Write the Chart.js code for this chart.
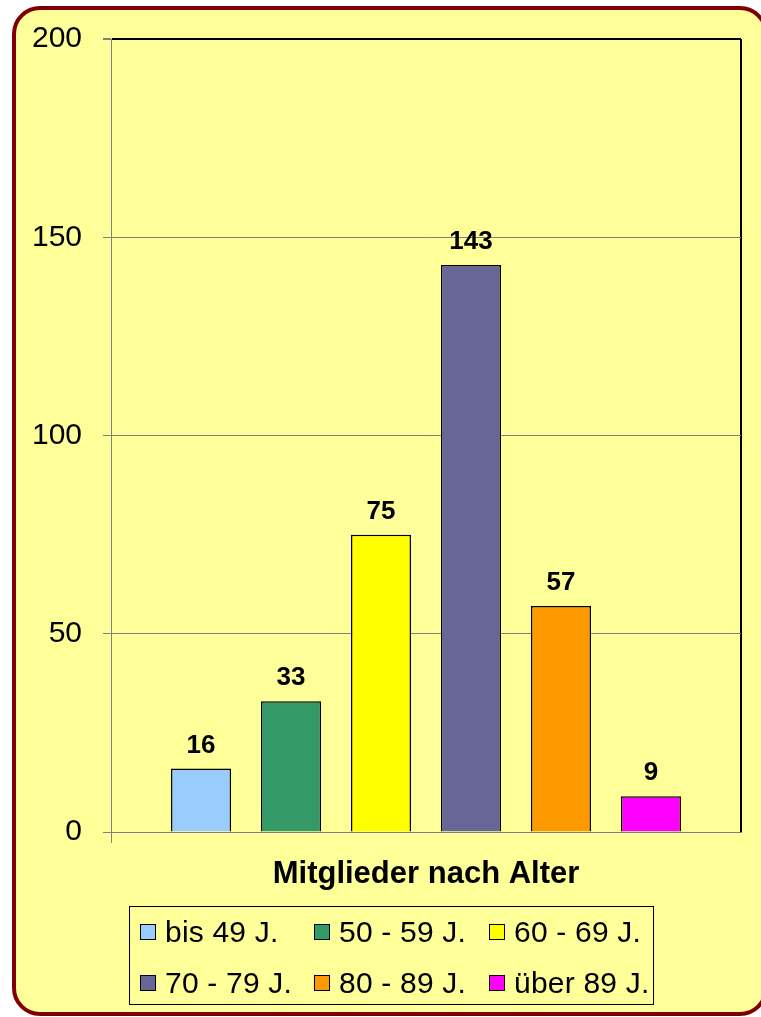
<!DOCTYPE html>
<html>
<head>
<meta charset="utf-8">
<script src="https://cdn.jsdelivr.net/npm/chart.js@4/dist/chart.umd.min.js"></script>
<style>
  html, body { margin: 0; padding: 0; background: #fff; overflow: hidden; }
  #frame {
    position: absolute; left: 12px; top: 6px; width: 756px; height: 1010px;
    box-sizing: border-box; border: 4px solid #800000; border-radius: 28px;
    background: #ffff99;
  }
  #wrap { position: absolute; left: 0; top: 0; width: 761px; height: 1017px; }
  #legend {
    position: absolute; left: 129px; top: 906px; width: 525px; height: 99px;
    box-sizing: border-box; border: 1.5px solid #000;
    font-family: "Liberation Sans", Arial, sans-serif; font-size: 30px; color: #000;
    letter-spacing: 0.2px;
  }
  .item { position: absolute; height: 34px; line-height: 34px; white-space: nowrap; }
  .box {
    position: absolute; left: 0; top: 9px; width: 16px; height: 16px;
    box-sizing: border-box; border: 1px solid #000;
  }
  .txt { position: absolute; left: 25px; top: 0; }
</style>
</head>
<body>
<div id="frame"></div>
<div id="wrap"><canvas id="c"></canvas></div>
<div id="legend"></div>
<script>
const categories = ['Mitglieder nach Alter'];
const seriesNames = ['bis 49 J.', '50 - 59 J.', '60 - 69 J.', '70 - 79 J.', '80 - 89 J.', 'über 89 J.'];
const seriesValues = [16, 33, 75, 143, 57, 9];
const seriesColors = ['#99ccff', '#339966', '#ffff00', '#666699', '#ff9900', '#ff00ff'];
const yTicks = [0, 50, 100, 150, 200];

const FONT = '"Liberation Sans", Arial, sans-serif';

// value labels above the bars
const valueLabels = {
  id: 'valueLabels',
  afterDatasetsDraw(chart) {
    const ctx = chart.ctx;
    ctx.save();
    ctx.font = 'bold 26px ' + FONT;
    ctx.fillStyle = '#000';
    ctx.textAlign = 'center';
    ctx.textBaseline = 'alphabetic';
    chart.data.datasets.forEach((ds, i) => {
      const el = chart.getDatasetMeta(i).data[0];
      ctx.fillText(String(ds.data[0]), el.x, el.y - 16);
    });
    ctx.restore();
  }
};

new Chart(document.getElementById('c'), {
  type: 'bar',
  data: {
    labels: categories,
    datasets: seriesNames.map((name, i) => ({
      label: name,
      data: [seriesValues[i]],
      backgroundColor: seriesColors[i],
      borderColor: '#000',
      borderWidth: 1.5,
      categoryPercentage: 0.857,
      barPercentage: 0.667
    }))
  },
  options: {
    responsive: true,
    maintainAspectRatio: false,
    animation: false,
    layout: { padding: { left: 0, top: 39, right: 20, bottom: 125 } },
    plugins: { legend: { display: false }, tooltip: { enabled: false } },
    scales: {
      x: {
        grid: {
          offset: true,
          color: c => c.index === 0 ? '#808080' : '#000',
          lineWidth: c => c.index === 0 ? 1 : 2,
          tickLength: 11,
          tickColor: c => c.index === 0 ? '#808080' : 'rgba(0,0,0,0)'
        },
        border: { color: '#808080', width: 1 },
        ticks: { color: '#000', font: { family: FONT, size: 31, weight: 'bold' }, padding: 13 },
        afterFit: s => { s.height = 60; }
      },
      y: {
        min: 0,
        max: 200,
        afterBuildTicks: s => { s.ticks = yTicks.map(v => ({ value: v })); },
        grid: {
          color: c => c.tick && c.tick.value === 200 ? '#000' : '#808080',
          lineWidth: c => c.tick && c.tick.value === 200 ? 2 : 1,
          tickLength: 8,
          tickColor: '#808080'
        },
        border: { color: '#808080', width: 1 },
        ticks: { color: '#000', font: { family: FONT, size: 30 }, padding: 21 },
        afterFit: s => { s.width = 111; }
      }
    }
  },
  plugins: [valueLabels]
});

// legend, 3 columns x 2 rows
const legend = document.getElementById('legend');
const colX = [10, 184, 359];
const rowY = [8, 59];
seriesNames.forEach((name, i) => {
  const item = document.createElement('div');
  item.className = 'item';
  item.style.left = colX[i % 3] + 'px';
  item.style.top = rowY[Math.floor(i / 3)] + 'px';
  const box = document.createElement('div');
  box.className = 'box';
  box.style.background = seriesColors[i];
  const txt = document.createElement('span');
  txt.className = 'txt';
  txt.textContent = name;
  item.appendChild(box);
  item.appendChild(txt);
  legend.appendChild(item);
});
</script>
</body>
</html>
